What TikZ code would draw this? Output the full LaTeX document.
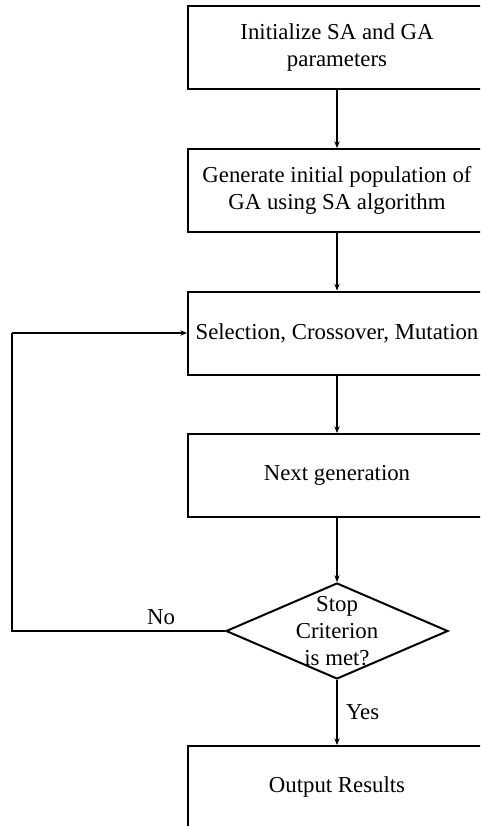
\documentclass[tikz,border=0pt]{standalone}
\usepackage{fontspec}
\setmainfont{Liberation Serif}
\usetikzlibrary{shapes.geometric,arrows.meta}
\begin{document}
\begin{tikzpicture}[x=0.75pt,y=-0.75pt,
  every node/.style={font=\fontsize{17.1pt}{20pt}\selectfont},
  procbox/.style={draw,line width=1.5pt,rectangle,minimum width=223.5pt,minimum height=62.25pt,inner sep=0pt,align=center},
  decision/.style={draw,line width=1.5pt,diamond,minimum width=166.5pt,minimum height=72pt,inner sep=0pt},
  flow/.style={line width=1.5pt,-{Stealth[length=5pt,width=4pt]}},
  plain/.style={line width=1.5pt}]
\useasboundingbox (0,0) rectangle (480,826);
\fill[white] (0,0) rectangle (480,826);
\clip (0,0) rectangle (480,826);

\node[procbox] (init) at (337,47.5) {Initialize SA and GA\\parameters};
\node[procbox] (gen) at (337,190.5) {Generate initial population of\\GA using SA algorithm};
\node[procbox] (ops) at (337,333) {Selection, Crossover, Mutation};
\node[procbox] (next) at (337,475.5) {Next generation};
\node[decision] (stop) at (337,631) {};
\node[align=center,inner sep=0pt] (stoptxt) at (stop.center) {Stop\\Criterion\\is met?};
\node[procbox] (out) at (337,787.5) {Output Results};

\coordinate (lowleft) at (12,631);
\coordinate (upleft) at (12,333);

\draw[flow] (init) -- (gen);
\draw[flow] (gen) -- (ops);
\draw[flow] (ops) -- (next);
\draw[flow] (next) -- (stop);
\draw[flow] (stop) -- node[right,inner sep=6pt] (yes) {Yes} (out);
\draw[plain] (stop.west) -- node[above,pos=0.3,inner sep=4pt] (no) {No} (lowleft) -- (upleft);
\draw[flow] (upleft) -- (ops.west);
\end{tikzpicture}
\end{document}
